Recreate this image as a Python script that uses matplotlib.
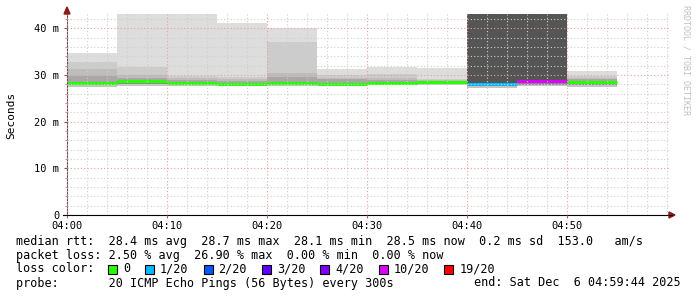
import matplotlib
matplotlib.use("Agg")
import matplotlib.pyplot as plt
from matplotlib.patches import Rectangle, Polygon

# 5 minute steps, minutes after 04:00
slot_start = [0, 5, 10, 15, 20, 25, 30, 35, 40, 45, 50]
loss_cnt = [0, 0, 0, 0, 0, 0, 0, 0, 1, 10, 0]

# ping rtt levels per step (ms)
rtt_min = [27.4, 27.6, 27.7, 27.8, 27.7, 27.8, 27.8, 27.9, 27.3, 27.6, 27.4]
rtt_lo = [27.8, 28.1, 27.9, 27.8, 27.9, 27.8, 27.9, 28.0, 27.7, 27.9, 27.9]
median = [28.3, 28.7, 28.2, 28.1, 28.3, 28.1, 28.2, 28.4, 28.1, 28.6, 28.4]
rtt_up1 = [29.8, 29.4, 28.9, 28.8, 29.6, 29.1, 28.9, 28.7, 28.5, 29.0, 29.1]
rtt_up2 = [31.2, 29.9, 29.3, 29.2, 30.5, 29.4, 29.3, 28.9, 29.0, 29.4, 29.4]
rtt_up3 = [32.8, 31.8, 29.7, 29.6, 37.1, 30.0, 30.2, 29.1, 29.5, 29.8, 29.8]
rtt_max = [34.7, 45.0, 45.0, 41.2, 40.0, 31.2, 31.6, 31.4, 45.0, 45.0, 30.9]

loss_labels = ["0", "1/20", "2/20", "3/20", "4/20", "10/20", "19/20"]
loss_steps = [0, 1, 2, 3, 4, 10, 19]
loss_colors = ["#26ff00", "#00b8ff", "#0059ff", "#5e00ff", "#7e00ff", "#dd00ff", "#ff0000"]

x_ticks = [0, 10, 20, 30, 40, 50]
x_labels = ["04:00", "04:10", "04:20", "04:30", "04:40", "04:50"]
y_ticks = [0, 10, 20, 30, 40]
y_labels = ["0", "10 m", "20 m", "30 m", "40 m"]

stats_lines = [
    "median rtt:  28.4 ms avg  28.7 ms max  28.1 ms min  28.5 ms now  0.2 ms sd  153.0   am/s",
    "packet loss: 2.50 % avg  26.90 % max  0.00 % min  0.00 % now",
]
probe_text = "probe:       20 ICMP Echo Pings (56 Bytes) every 300s"
end_text = "end: Sat Dec  6 04:59:44 2025"

MONO = "DejaVu Sans Mono"
W, H = 697, 297

fig = plt.figure(figsize=(W / 100, H / 100), dpi=100, facecolor="white")
ax = fig.add_axes([67 / W, (H - 215) / H, (669 - 67) / W, (215 - 14) / H])


def loss_color(n):
    col = loss_colors[0]
    for step, c in zip(loss_steps, loss_colors):
        if n >= step:
            col = c
    return col


# smoke bands, from the bottom up
levels = [rtt_min, rtt_lo, median, rtt_up1, rtt_up2, rtt_up3, rtt_max]
band_colors = ["#c4c4c4", "#8a8a8a", "#a8a8a8", "#bdbdbd", "#cccccc", "#dddddd"]
for i in range(len(levels) - 1):
    lo, hi = levels[i], levels[i + 1]
    cols = []
    for k in range(len(slot_start)):
        if loss_cnt[k] > 0 and i >= 2:
            cols.append("#555555")
        else:
            cols.append(band_colors[i])
    ax.bar(slot_start, [h - l for h, l in zip(hi, lo)], bottom=lo, width=5,
           align="edge", color=cols, linewidth=0, zorder=1)

ax.hlines(median, slot_start, [s + 5 for s in slot_start],
          colors=[loss_color(n) for n in loss_cnt], lw=2.2, zorder=2)

ax.set_xlim(0, 60.2)
ax.set_ylim(0, 43.05)
ax.set_xticks(x_ticks)
ax.set_xticklabels(x_labels, family=MONO, fontsize=7.5)
ax.set_xticks(range(0, 61, 2), minor=True)
ax.set_yticks(y_ticks)
ax.set_yticklabels(y_labels, family=MONO, fontsize=7.5)
ax.set_yticks(range(0, 44, 2), minor=True)

ax.set_axisbelow(False)
ax.grid(which="minor", color="#cfcfcf", ls=(0, (1, 2)), lw=0.8)
ax.grid(which="major", color="#e8a0a0", ls=(0, (1, 2)), lw=0.8)

ax.tick_params(axis="y", which="major", length=2.5, pad=3, color="#606060")
ax.tick_params(axis="y", which="minor", length=1.5, color="#909090")
ax.tick_params(axis="x", which="major", length=2, pad=2.5, color="#c06060")
ax.tick_params(axis="x", which="minor", length=0)
for s in ["top", "right"]:
    ax.spines[s].set_visible(False)
ax.spines["left"].set_color("#6a4a4a")
ax.spines["bottom"].set_color("black")

# overlay in pixel coordinates for arrows, legend and text
ov = fig.add_axes([0, 0, 1, 1], facecolor="none")
ov.set_xlim(0, W)
ov.set_ylim(H, 0)
ov.axis("off")

arrow = "#8b1a1a"
ov.plot([669, 672], [215, 215], color="black", lw=0.8)
ov.add_patch(Polygon([[669, 212], [675, 215], [669, 218]], color=arrow))
ov.add_patch(Polygon([[64, 14], [67, 7], [70, 14]], color=arrow))
ov.plot([63, 67], [215, 215], color="black", lw=0.8)

ov.text(11, 115, "Seconds", rotation=90, ha="center", va="center",
        family=MONO, fontsize=8)
ov.text(686, 5, "RRDTOOL / TOBI OETIKER", rotation=270, ha="center", va="top",
        family=MONO, fontsize=6, color="#c0c0c0")

for i, line in enumerate(stats_lines):
    ov.text(16, 241 + 14 * i, line, ha="left", va="center", family=MONO, fontsize=8.5)

ov.text(16, 269, "loss color:", ha="left", va="center", family=MONO, fontsize=8.5)
x = 108
for lab, col in zip(loss_labels, loss_colors):
    ov.add_patch(Rectangle((x, 264.5), 9, 9, facecolor=col, edgecolor="black", lw=0.8))
    ov.text(x + 15, 269, lab, ha="left", va="center", family=MONO, fontsize=8.5)
    x = x + 15 + len(lab) * 7.1 + 15

ov.text(16, 283, probe_text, ha="left", va="center", family=MONO, fontsize=8.5)
ov.text(681, 283, end_text, ha="right", va="center", family=MONO, fontsize=8.5)

fig.savefig("out.png", dpi=100, facecolor="white")
plt.close(fig)
